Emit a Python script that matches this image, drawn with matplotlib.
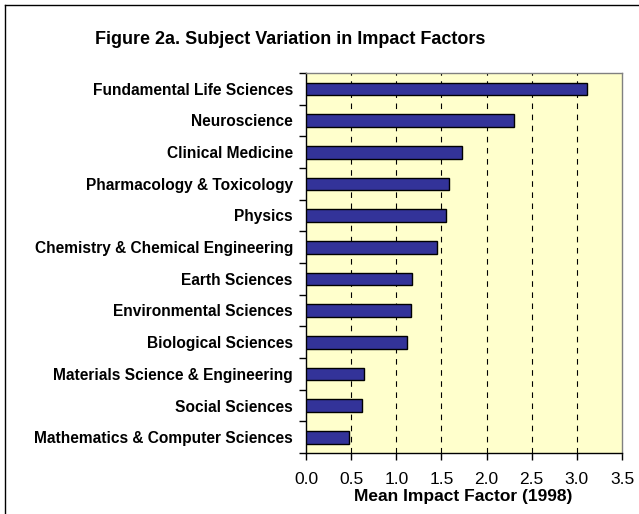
import matplotlib
matplotlib.use("Agg")
import matplotlib.pyplot as plt
from matplotlib.lines import Line2D

categories = [
    "Fundamental Life Sciences",
    "Neuroscience",
    "Clinical Medicine",
    "Pharmacology & Toxicology",
    "Physics",
    "Chemistry & Chemical Engineering",
    "Earth Sciences",
    "Environmental Sciences",
    "Biological Sciences",
    "Materials Science & Engineering",
    "Social Sciences",
    "Mathematics & Computer Sciences",
]
values = [3.11, 2.30, 1.73, 1.58, 1.55, 1.45, 1.17, 1.16, 1.12, 0.64, 0.62, 0.48]
xticks = [0.0, 0.5, 1.0, 1.5, 2.0, 2.5, 3.0, 3.5]
xticklabels = ["0.0", "0.5", "1.0", "1.5", "2.0", "2.5", "3.0", "3.5"]

plt.rcParams['font.family'] = ['Liberation Sans', 'DejaVu Sans']

fig = plt.figure(figsize=(6.39, 5.14), dpi=100)
ax = fig.add_axes([306/639, 1-453/514, (622-306)/639, (453-73)/514])
ax.set_facecolor("#FFFFCC")

n = len(categories)
ypos = list(range(n))
ax.barh(ypos, values, height=0.4, color="#333399", edgecolor="black", linewidth=1.0, zorder=3)
ax.set_ylim(n - 0.5, -0.5)
ax.set_xlim(0, 3.5)

ax.set_yticks(ypos)
ax.set_yticklabels(categories, fontsize=11.2, fontweight="bold")
ax.tick_params(axis="y", which="major", length=0, pad=9.5)
ax.set_yticks([i - 0.5 for i in range(n + 1)], minor=True)
ax.tick_params(axis="y", which="minor", length=5, direction="out", width=1)

ax.set_xticks(xticks)
ax.set_xticklabels(xticklabels, fontsize=12.5)
ax.tick_params(axis="x", length=5, direction="out", width=1, pad=8.5)

for x in xticks[1:-1]:
    ax.axvline(x, color="black", linestyle=(0, (5, 5)), linewidth=0.8, zorder=1)

for side in ["top", "right"]:
    ax.spines[side].set_color("#808080")
    ax.spines[side].set_linewidth(1)
for side in ["left", "bottom"]:
    ax.spines[side].set_color("black")
    ax.spines[side].set_linewidth(1)

ax.set_xlabel("Mean Impact Factor (1998)", fontsize=12.5, fontweight="bold", va="baseline")
ax.xaxis.set_label_coords((463 - 306) / 316, -(501 - 453) / 380)

fig.text(290/639, 1-40/514, "Figure 2a. Subject Variation in Impact Factors",
         ha="center", va="center", fontsize=13, fontweight="bold")

# figure frame (left and top edges)
fig.add_artist(Line2D([5/639, 5/639], [0, 1-5/514], transform=fig.transFigure, color="black", linewidth=1))
fig.add_artist(Line2D([5/639, 1], [1-5/514, 1-5/514], transform=fig.transFigure, color="black", linewidth=1))

fig.savefig("out.png", dpi=100)
